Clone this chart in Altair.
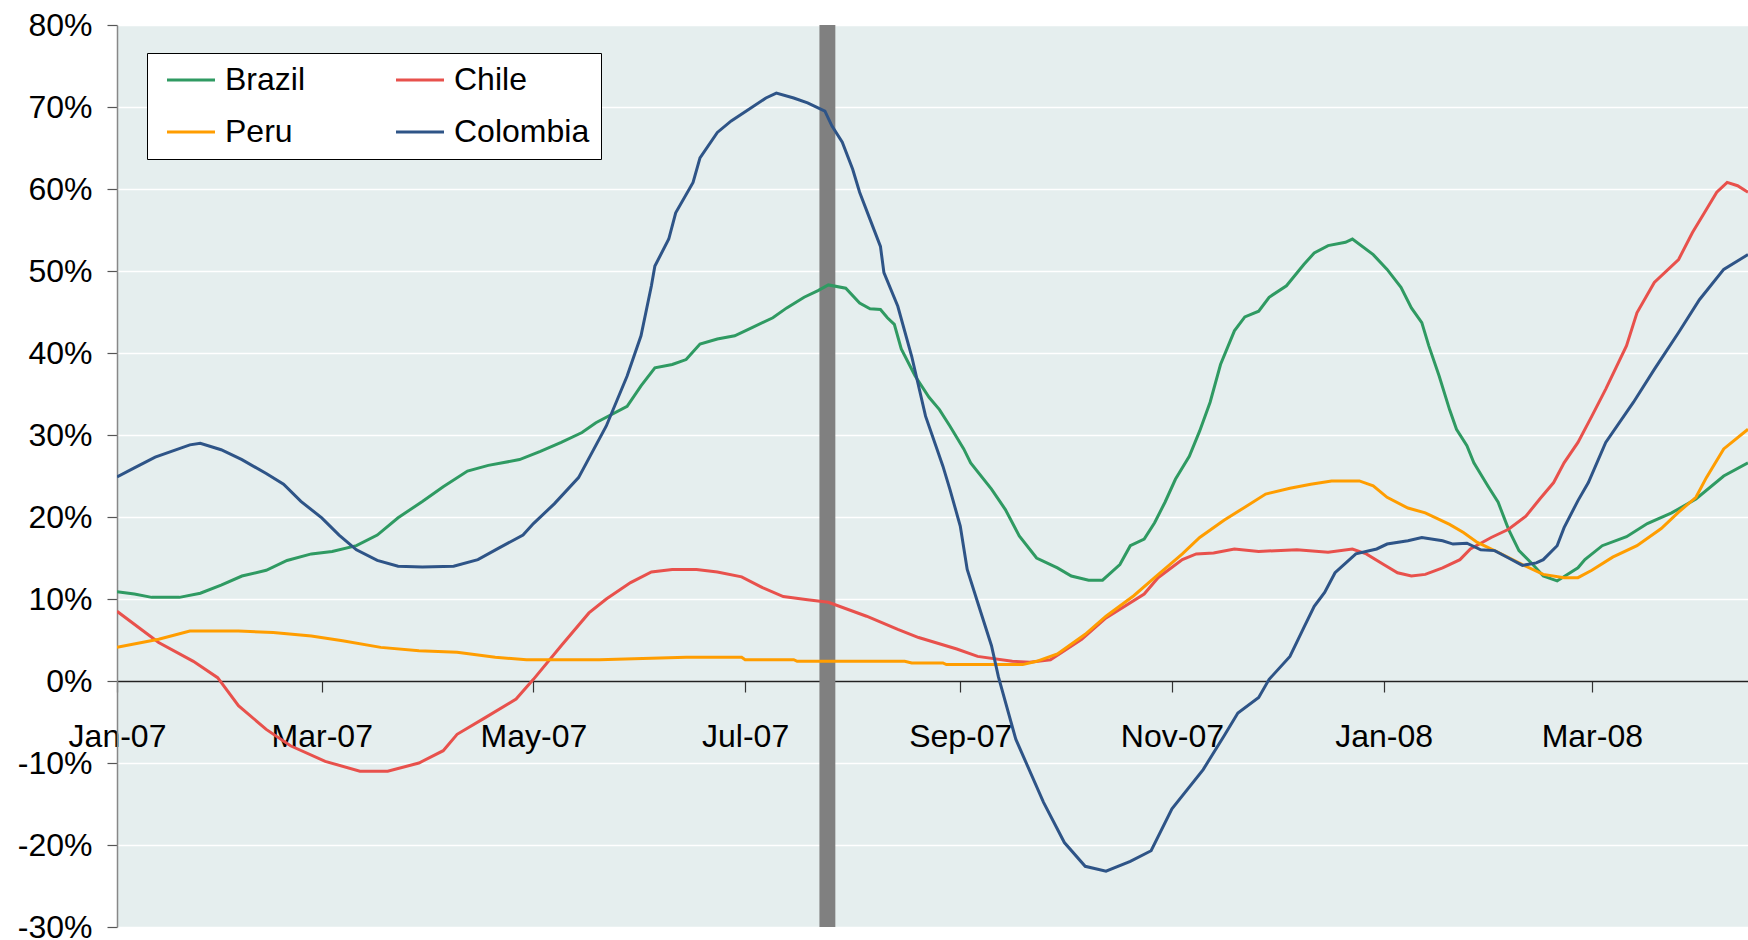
import altair as alt
import pandas as pd

# ---------------- data (values in %) ----------------
series_names = ["Brazil", "Chile", "Peru", "Colombia"]
series_colors = ["#2F9A62", "#E8514C", "#FF9D00", "#2E5487"]
legend_order = ["Brazil", "Peru", "Chile", "Colombia"]  # column-wise fill -> rows: Brazil/Chile, Peru/Colombia

brazil_dates = [
    "2007-01-01", "2007-01-06", "2007-01-11", "2007-01-19", "2007-01-25", "2007-01-31",
    "2007-02-06", "2007-02-13", "2007-02-19", "2007-02-26", "2007-03-04", "2007-03-11",
    "2007-03-17", "2007-03-23", "2007-03-30", "2007-04-05", "2007-04-12", "2007-04-18",
    "2007-04-27", "2007-05-03", "2007-05-09", "2007-05-15", "2007-05-19", "2007-05-28",
    "2007-06-01", "2007-06-05", "2007-06-10", "2007-06-14", "2007-06-18", "2007-06-23",
    "2007-06-28", "2007-07-03", "2007-07-09", "2007-07-13", "2007-07-18", "2007-07-22",
    "2007-07-25", "2007-07-30", "2007-08-03", "2007-08-06", "2007-08-09", "2007-08-11",
    "2007-08-13", "2007-08-15", "2007-08-19", "2007-08-23", "2007-08-26", "2007-08-29",
    "2007-09-02", "2007-09-04", "2007-09-10", "2007-09-14", "2007-09-18", "2007-09-23",
    "2007-09-29", "2007-10-03", "2007-10-08", "2007-10-12", "2007-10-17", "2007-10-20",
    "2007-10-24", "2007-10-27", "2007-10-30", "2007-11-02", "2007-11-06", "2007-11-09",
    "2007-11-12", "2007-11-15", "2007-11-19", "2007-11-22", "2007-11-26", "2007-11-29",
    "2007-12-04", "2007-12-09", "2007-12-12", "2007-12-16", "2007-12-21", "2007-12-23",
    "2007-12-29", "2008-01-02", "2008-01-06", "2008-01-09", "2008-01-12", "2008-01-14",
    "2008-01-17", "2008-01-20", "2008-01-22", "2008-01-25", "2008-01-27", "2008-01-31",
    "2008-02-03", "2008-02-06", "2008-02-09", "2008-02-13", "2008-02-16", "2008-02-20",
    "2008-02-26", "2008-02-28", "2008-03-04", "2008-03-11", "2008-03-17", "2008-03-24",
    "2008-03-31", "2008-04-08", "2008-04-15",
]
brazil_values = [
    10.9, 10.6, 10.2, 10.2, 10.7, 11.7,
    12.8, 13.5, 14.7, 15.5, 15.8, 16.5,
    17.8, 19.9, 21.9, 23.7, 25.6, 26.3,
    27.0, 28.0, 29.1, 30.3, 31.5, 33.5,
    36.0, 38.2, 38.6, 39.2, 41.1, 41.7,
    42.1, 43.1, 44.3, 45.5, 46.8, 47.6,
    48.3, 47.9, 46.1, 45.4, 45.3, 44.3,
    43.5, 40.5, 37.2, 34.6, 33.1, 31.1,
    28.3, 26.6, 23.4, 20.9, 17.7, 15.0,
    13.8, 12.8, 12.3, 12.3, 14.2, 16.5,
    17.3, 19.3, 21.8, 24.6, 27.4, 30.5,
    34.0, 38.6, 42.7, 44.4, 45.1, 46.8,
    48.2, 50.8, 52.2, 53.1, 53.5, 53.9,
    52.0, 50.2, 48.0, 45.5, 43.7, 40.9,
    37.2, 33.1, 30.7, 28.7, 26.6, 23.8,
    21.8, 18.5, 15.9, 14.2, 12.8, 12.2,
    13.8, 14.8, 16.5, 17.6, 19.2, 20.5,
    22.2, 25.0, 26.6,
]

chile_dates = [
    "2007-01-01", "2007-01-13", "2007-01-23", "2007-01-30", "2007-02-05", "2007-02-13",
    "2007-02-20", "2007-03-02", "2007-03-12", "2007-03-20", "2007-03-29", "2007-04-05",
    "2007-04-09", "2007-04-17", "2007-04-26", "2007-05-01", "2007-05-09", "2007-05-17",
    "2007-05-22", "2007-05-29", "2007-06-04", "2007-06-10", "2007-06-17", "2007-06-23",
    "2007-06-30", "2007-07-06", "2007-07-12", "2007-07-19", "2007-07-25", "2007-08-05",
    "2007-08-14", "2007-08-20", "2007-08-31", "2007-09-06", "2007-09-16", "2007-09-21",
    "2007-09-27", "2007-10-06", "2007-10-13", "2007-10-24", "2007-10-28", "2007-11-04",
    "2007-11-08", "2007-11-13", "2007-11-19", "2007-11-26", "2007-12-07", "2007-12-16",
    "2007-12-23", "2007-12-27", "2008-01-01", "2008-01-05", "2008-01-09", "2008-01-13",
    "2008-01-18", "2008-01-23", "2008-01-26", "2008-02-01", "2008-02-06", "2008-02-11",
    "2008-02-15", "2008-02-19", "2008-02-22", "2008-02-26", "2008-03-01", "2008-03-05",
    "2008-03-11", "2008-03-14", "2008-03-19", "2008-03-26", "2008-03-30", "2008-04-03",
    "2008-04-06", "2008-04-09", "2008-04-12", "2008-04-15",
]
chile_values = [
    8.5, 4.7, 2.4, 0.4, -3.0, -5.9,
    -7.9, -9.8, -11.0, -11.0, -10.0, -8.5,
    -6.5, -4.5, -2.2, 0.2, 4.3, 8.3,
    10.0, 12.0, 13.3, 13.6, 13.6, 13.3,
    12.7, 11.4, 10.3, 9.9, 9.6, 7.9,
    6.3, 5.3, 3.9, 3.0, 2.4, 2.3,
    2.6, 5.1, 7.7, 10.6, 12.6, 14.8,
    15.5, 15.6, 16.1, 15.8, 16.0, 15.7,
    16.1, 15.5, 14.2, 13.2, 12.8, 13.0,
    13.8, 14.8, 16.1, 17.5, 18.5, 20.1,
    22.2, 24.2, 26.6, 29.1, 32.3, 35.6,
    40.9, 44.9, 48.6, 51.4, 54.7, 57.5,
    59.6, 60.8, 60.4, 59.6,
]

peru_dates = [
    "2007-01-01", "2007-01-13", "2007-01-22", "2007-02-05", "2007-02-15", "2007-02-26",
    "2007-03-07", "2007-03-18", "2007-03-29", "2007-04-09", "2007-04-20", "2007-04-29",
    "2007-05-20", "2007-06-14", "2007-06-30", "2007-07-01", "2007-07-15", "2007-07-16",
    "2007-08-16", "2007-08-18", "2007-08-27", "2007-08-28", "2007-09-19", "2007-09-23",
    "2007-09-29", "2007-10-07", "2007-10-13", "2007-10-21", "2007-10-27", "2007-11-04",
    "2007-11-09", "2007-11-16", "2007-11-22", "2007-11-28", "2007-12-05", "2007-12-11",
    "2007-12-17", "2007-12-25", "2007-12-29", "2008-01-02", "2008-01-08", "2008-01-13",
    "2008-01-20", "2008-01-24", "2008-01-28", "2008-02-03", "2008-02-10", "2008-02-16",
    "2008-02-22", "2008-02-26", "2008-03-01", "2008-03-07", "2008-03-14", "2008-03-21",
    "2008-03-26", "2008-03-31", "2008-04-03", "2008-04-08", "2008-04-15",
]
peru_values = [
    4.1, 5.1, 6.1, 6.1, 5.9, 5.5,
    4.9, 4.1, 3.7, 3.5, 2.9, 2.6,
    2.6, 2.9, 2.9, 2.6, 2.6, 2.4,
    2.4, 2.2, 2.2, 2.0, 2.0, 2.4,
    3.3, 5.7, 7.9, 10.4, 12.6, 15.5,
    17.5, 19.6, 21.2, 22.8, 23.5, 24.0,
    24.4, 24.4, 23.8, 22.4, 21.1, 20.5,
    19.1, 18.1, 16.9, 15.7, 14.2, 13.0,
    12.6, 12.6, 13.5, 15.1, 16.5, 18.6,
    20.6, 22.4, 24.8, 28.3, 30.7,
]

colombia_dates = [
    "2007-01-01", "2007-01-06", "2007-01-12", "2007-01-22", "2007-01-25", "2007-01-31",
    "2007-02-06", "2007-02-13", "2007-02-18", "2007-02-23", "2007-03-01", "2007-03-06",
    "2007-03-11", "2007-03-17", "2007-03-23", "2007-03-30", "2007-04-08", "2007-04-15",
    "2007-04-21", "2007-04-28", "2007-05-01", "2007-05-07", "2007-05-14", "2007-05-22",
    "2007-05-28", "2007-06-01", "2007-06-04", "2007-06-05", "2007-06-09", "2007-06-11",
    "2007-06-16", "2007-06-18", "2007-06-23", "2007-06-27", "2007-07-02", "2007-07-07",
    "2007-07-10", "2007-07-15", "2007-07-19", "2007-07-24", "2007-07-26", "2007-07-29",
    "2007-08-01", "2007-08-03", "2007-08-06", "2007-08-09", "2007-08-10", "2007-08-14",
    "2007-08-18", "2007-08-22", "2007-08-27", "2007-08-29", "2007-09-01", "2007-09-03",
    "2007-09-06", "2007-09-10", "2007-09-12", "2007-09-17", "2007-09-25", "2007-10-01",
    "2007-10-07", "2007-10-13", "2007-10-20", "2007-10-26", "2007-11-01", "2007-11-10",
    "2007-11-16", "2007-11-20", "2007-11-26", "2007-11-29", "2007-12-05", "2007-12-09",
    "2007-12-12", "2007-12-15", "2007-12-18", "2007-12-24", "2007-12-30", "2008-01-02",
    "2008-01-08", "2008-01-12", "2008-01-18", "2008-01-21", "2008-01-25", "2008-01-29",
    "2008-02-02", "2008-02-06", "2008-02-10", "2008-02-14", "2008-02-16", "2008-02-20",
    "2008-02-22", "2008-02-26", "2008-02-29", "2008-03-05", "2008-03-13", "2008-03-19",
    "2008-03-26", "2008-04-01", "2008-04-08", "2008-04-15",
]
colombia_values = [
    24.9, 26.0, 27.3, 28.8, 29.0, 28.2,
    27.0, 25.3, 24.0, 21.9, 19.9, 17.8,
    16.0, 14.7, 14.0, 13.9, 14.0, 14.8,
    16.2, 17.8, 19.2, 21.6, 24.8, 31.1,
    37.2, 42.1, 48.2, 50.6, 53.9, 57.1,
    60.8, 63.8, 66.9, 68.3, 69.7, 71.1,
    71.7, 71.1, 70.5, 69.5, 67.7, 65.7,
    62.4, 59.6, 56.3, 53.0, 49.8, 45.7,
    39.6, 32.3, 26.2, 23.4, 18.9, 13.6,
    9.6, 4.3, 0.5, -7.1, -14.8, -19.7,
    -22.6, -23.2, -22.0, -20.7, -15.6, -10.8,
    -6.7, -3.9, -2.0, 0.2, 3.0, 6.5,
    9.1, 10.8, 13.2, 15.5, 16.1, 16.7,
    17.1, 17.5, 17.1, 16.7, 16.8, 16.0,
    15.9, 15.0, 14.1, 14.4, 14.8, 16.5,
    18.7, 22.0, 24.2, 29.1, 34.0, 38.0,
    42.5, 46.5, 50.2, 52.0,
]

# highlighted period (grey vertical band)
band_start = ["2007-07-22T10:00:00Z"]
band_end = ["2007-07-27T00:00:00Z"]

y_ticks = [-30, -20, -10, 0, 10, 20, 30, 40, 50, 60, 70, 80]
x_tick_dates = [(2007, 1), (2007, 3), (2007, 5), (2007, 7), (2007, 9), (2007, 11), (2008, 1), (2008, 3)]
x_domain = [(2007, 1, 1), (2008, 4, 15)]

# ---------------- build tables ----------------
frames = []
for name, d, v in [
    ("Brazil", brazil_dates, brazil_values),
    ("Chile", chile_dates, chile_values),
    ("Peru", peru_dates, peru_values),
    ("Colombia", colombia_dates, colombia_values),
]:
    frames.append(pd.DataFrame({"date": d, "value": v, "country": name}))
lines_df = pd.concat(frames, ignore_index=True)

band_df = pd.DataFrame({"start": band_start, "end": band_end,
                        "lo": [min(y_ticks)], "hi": [max(y_ticks)]})

# ---------------- layout ----------------
W, H = 1631, 902
FONT = "Liberation Sans"
y_min, y_max = min(y_ticks), max(y_ticks)
zero_offset = -H * (0 - y_min) / (y_max - y_min)

x_scale = alt.Scale(
    type="utc",
    domain=[alt.DateTime(year=a, month=b, date=c, utc=True) for a, b, c in x_domain],
)
y_scale = alt.Scale(domain=[y_min, y_max], nice=False, zero=False)

x_axis = alt.Axis(
    orient="bottom",
    offset=zero_offset,
    values=[alt.DateTime(year=a, month=b, date=1, utc=True) for a, b in x_tick_dates],
    labelExpr="utcFormat(datum.value, '%b-%y')",
    labelFont=FONT,
    labelFontSize=32,
    labelColor="black",
    labelPadding=29,
    labelOverlap=False,
    labelFlush=False,
    tickSize=11,
    tickColor="#333333",
    tickWidth=1.2,
    domainColor="#222222",
    domainWidth=1.3,
    grid=False,
    title=None,
)
y_axis = alt.Axis(
    values=y_ticks,
    labelExpr="datum.value + '%'",
    labelFont=FONT,
    labelFontSize=32,
    labelColor="black",
    labelPadding=15,
    tickSize=10,
    tickColor="#555555",
    tickWidth=1.2,
    domainColor="#888888",
    domainWidth=1.5,
    grid=True,
    gridColor="white",
    gridWidth=1.5,
    title=None,
)

band = alt.Chart(band_df).mark_rect(color="#808080").encode(
    x=alt.X("start:T", scale=x_scale, axis=x_axis, title=None),
    x2="end:T",
    y=alt.Y("lo:Q", scale=y_scale, axis=y_axis, title=None),
    y2="hi:Q",
)

lines = alt.Chart(lines_df).mark_line(strokeWidth=3, clip=True).encode(
    x=alt.X("date:T", scale=x_scale, axis=x_axis, title=None),
    y=alt.Y("value:Q", scale=y_scale, axis=y_axis, title=None),
    color=alt.Color(
        "country:N",
        scale=alt.Scale(domain=legend_order,
                        range=[series_colors[series_names.index(n)] for n in legend_order]),
        legend=alt.Legend(
            title=None,
            orient="none",
            legendX=30,
            legendY=28,
            columns=2,
            symbolType="M-2,0L2,0",
            symbolSize=576,
            symbolStrokeWidth=3,
            symbolOffset=17,
            labelOffset=18,
            labelFont=FONT,
            labelFontSize=32,
            labelColor="black",
            labelLimit=300,
            rowPadding=20,
            columnPadding=81,
            padding=11,
            strokeColor="black",
            fillColor="white",
        ),
    ),
    detail="country:N",
)

chart = (
    alt.layer(band, lines)
    .properties(
        width=W,
        height=H,
        autosize=alt.AutoSizeParams(type="none"),
        padding={"left": 117, "top": 25, "right": 0, "bottom": 13},
        background="white",
    )
    .configure_view(fill="#E5EEEE", stroke=None)
)

chart.save("out.html", embed_options={"renderer": "svg", "actions": False})
